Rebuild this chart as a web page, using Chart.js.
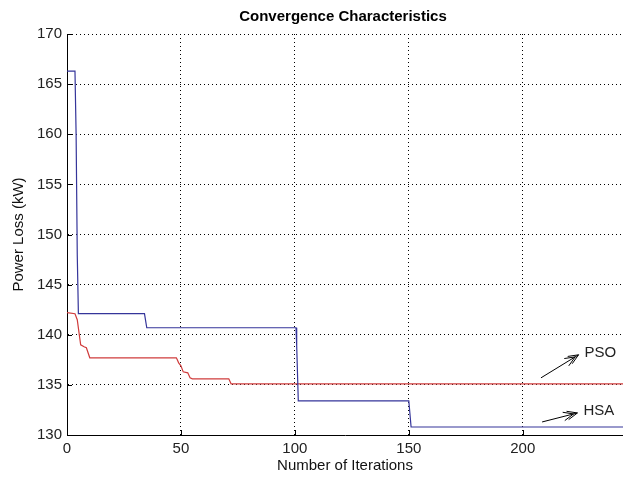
<!DOCTYPE html>
<html>
<head>
<meta charset="utf-8">
<title>Convergence Characteristics</title>
<script src="https://cdn.jsdelivr.net/npm/chart.js@4"></script>
<style>
  html, body { margin: 0; padding: 0; background: #fff; }
  #wrap { width: 623px; height: 478px; }
</style>
</head>
<body>
<div id="wrap"><canvas id="chart"></canvas></div>
<script>
// HSA curve (blue) - iteration / power loss at each corner of the step curve
const hsaIter = [0, 3.5, 4, 4.5, 5, 34, 35, 100.5, 100.8, 101.5, 150, 151, 244];
const hsaLoss = [166.3, 166.3, 160, 148, 142.1, 142.1, 140.7, 140.7, 138.9, 133.4, 133.4, 130.8, 130.8];

// PSO curve (red)
const psoIter = [0, 3.5, 4.5, 6, 7.5, 8.5, 10, 48, 49, 50, 51, 53, 54, 55, 71, 72, 244];
const psoLoss = [142.2, 142.1, 141.5, 139, 138.8, 138.7, 137.7, 137.7, 137.2, 136.9, 136.3, 136.2, 135.7, 135.6, 135.6, 135.1, 135.1];

const xTicks = [0, 50, 100, 150, 200];
const yTicks = [130, 135, 140, 145, 150, 155, 160, 165, 170];

// text arrows: label, arrow tail (x,y), arrow head (x,y), in data units
const noteText = ['PSO', 'HSA'];
const noteFrom = [[208, 135.7], [208.5, 131.3]];
const noteTo = [[224.5, 138.0], [224, 132.2]];

const toPoints = (xs, ys) => xs.map((x, i) => ({ x: x, y: ys[i] }));

const FONT = '"Liberation Sans", Arial, Helvetica, sans-serif';

// title, inward tick marks and arrow notes, MATLAB style
const extras = {
  id: 'extras',
  afterDraw(chart) {
    const { ctx, chartArea, scales } = chart;
    const xs = scales.x, ys = scales.y;
    ctx.save();

    ctx.fillStyle = '#000';
    ctx.font = 'bold 15px ' + FONT;
    ctx.textAlign = 'center';
    ctx.textBaseline = 'middle';
    ctx.fillText('Convergence Characteristics', (chartArea.left + chartArea.right) / 2 - 2, 17);

    ctx.strokeStyle = '#000';
    ctx.lineWidth = 1;
    ctx.beginPath();
    xTicks.forEach(v => {
      const px = Math.round(xs.getPixelForValue(v)) + 0.5;
      ctx.moveTo(px, chartArea.bottom);
      ctx.lineTo(px, chartArea.bottom - 5);
    });
    yTicks.forEach(v => {
      const py = Math.round(ys.getPixelForValue(v)) + 0.5;
      ctx.moveTo(chartArea.left, py);
      ctx.lineTo(chartArea.left + 5, py);
    });
    ctx.stroke();

    ctx.font = '15px ' + FONT;
    ctx.fillStyle = '#222';
    ctx.textAlign = 'left';
    noteText.forEach((txt, i) => {
      const x0 = xs.getPixelForValue(noteFrom[i][0]), y0 = ys.getPixelForValue(noteFrom[i][1]);
      const x1 = xs.getPixelForValue(noteTo[i][0]), y1 = ys.getPixelForValue(noteTo[i][1]);
      const ang = Math.atan2(y1 - y0, x1 - x0);
      ctx.beginPath();
      ctx.moveTo(x0, y0);
      ctx.lineTo(x1, y1);
      // open double barb arrow head
      [0, 4].forEach(back => {
        const hx = x1 - back * Math.cos(ang), hy = y1 - back * Math.sin(ang);
        [0.4, -0.4].forEach(d => {
          ctx.moveTo(hx, hy);
          ctx.lineTo(hx - 11 * Math.cos(ang + d), hy - 11 * Math.sin(ang + d));
        });
      });
      ctx.stroke();
      ctx.fillText(txt, x1 + 6, y1 - 2);
    });
    ctx.restore();
  }
};

new Chart(document.getElementById('chart'), {
  type: 'line',
  data: {
    datasets: [
      {
        label: 'HSA',
        data: toPoints(hsaIter, hsaLoss),
        borderColor: '#35359a',
        borderWidth: 1.2,
        pointRadius: 0,
        tension: 0
      },
      {
        label: 'PSO',
        data: toPoints(psoIter, psoLoss),
        borderColor: '#d03c3c',
        borderWidth: 1.2,
        pointRadius: 0,
        tension: 0
      }
    ]
  },
  options: {
    responsive: true,
    maintainAspectRatio: false,
    animation: false,
    layout: { padding: { top: 34, right: 0, bottom: 0, left: 0 } },
    plugins: {
      legend: { display: false },
      tooltip: { enabled: false },
      title: { display: false }
    },
    scales: {
      x: {
        type: 'linear',
        min: 0,
        max: 244,
        afterBuildTicks: s => { s.ticks = xTicks.map(v => ({ value: v })); },
        afterFit: s => { s.height = 43; },
        grid: { color: '#000', lineWidth: 1, drawTicks: false },
        border: { display: true, color: '#000', width: 1, dash: [1, 3] },
        ticks: { color: '#222', padding: 5, maxRotation: 0, font: { family: FONT, size: 15 } },
        title: {
          display: true,
          text: 'Number of Iterations',
          color: '#111',
          padding: { top: 0, bottom: 3 },
          font: { family: FONT, size: 15 }
        }
      },
      y: {
        min: 130,
        max: 170,
        afterBuildTicks: s => { s.ticks = yTicks.map(v => ({ value: v })); },
        afterFit: s => { s.width = 67; },
        grid: { color: '#000', lineWidth: 1, drawTicks: false },
        border: { display: true, color: '#000', width: 1, dash: [1, 3] },
        ticks: { color: '#222', padding: 5, font: { family: FONT, size: 15 } },
        title: {
          display: true,
          text: 'Power Loss (kW)',
          color: '#111',
          padding: { top: 10, bottom: 0 },
          font: { family: FONT, size: 15 }
        }
      }
    }
  },
  plugins: [extras]
});
</script>
</body>
</html>
